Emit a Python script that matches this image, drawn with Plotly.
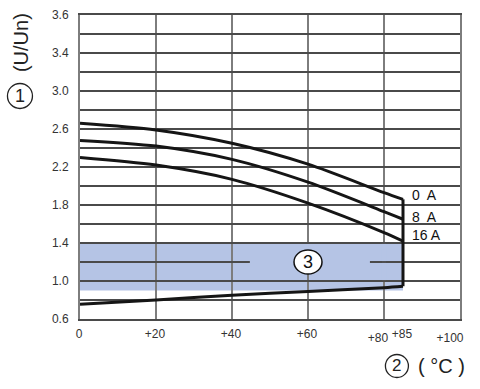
import plotly.graph_objects as go

# ---- data ----
temps = [0, 20, 40, 60, 80, 85]
u_0A = [2.66, 2.59, 2.45, 2.23, 1.93, 1.86]
u_8A = [2.48, 2.42, 2.28, 2.04, 1.73, 1.65]
u_16A = [2.30, 2.22, 2.07, 1.82, 1.51, 1.42]
u_min = [0.755, 0.80, 0.85, 0.89, 0.93, 0.945]
curve_labels = ["0  A", "8  A", "16 A"]
band_x = [0, 85]
band_y = [0.9, 1.4]
x_tickvals = [0, 20, 40, 60, 85]
x_ticktext = ["0", "+20", "+40", "+60", "+85"]
x_tickvals_b = [80]
x_ticktext_b = ["+80"]
x_tickvals_c = [100]
x_ticktext_c = ["+100"]
y_tickvals = [0.6, 1.0, 1.4, 1.8, 2.2, 2.6, 3.0, 3.4, 3.8]
y_ticktext = ["0.6", "1.0", "1.4", "1.8", "2.2", "2.6", "3.0", "3.4", "3.6"]

FONT = "Liberation Sans, Arial, sans-serif"
LINE = "#151515"
BAND = "#b5c4e5"
HGRID = "#4a4a4a"
VGRID = "#7d7d7d"
TICKFONT = dict(family=FONT, size=12, color="#333")

fig = go.Figure()

for ys in (u_0A, u_8A, u_16A):
    fig.add_trace(go.Scatter(x=temps, y=ys, mode="lines",
                             line=dict(color=LINE, width=3, shape="spline", smoothing=0.8),
                             hoverinfo="skip", showlegend=False))
fig.add_trace(go.Scatter(x=temps, y=u_min, mode="lines",
                         line=dict(color=LINE, width=3, shape="spline", smoothing=0.8),
                         hoverinfo="skip", showlegend=False))
fig.add_trace(go.Scatter(x=[temps[-1], temps[-1]], y=[u_0A[-1], u_min[-1]], mode="lines",
                         line=dict(color=LINE, width=3), hoverinfo="skip", showlegend=False))
# empty traces so the extra label axes are drawn
fig.add_trace(go.Scatter(x=[], y=[], xaxis="x2", yaxis="y", showlegend=False, hoverinfo="skip"))
fig.add_trace(go.Scatter(x=[], y=[], xaxis="x3", yaxis="y", showlegend=False, hoverinfo="skip"))

shapes = []
shapes.append(dict(type="rect", xref="x", yref="y", x0=band_x[0], x1=band_x[1],
                   y0=band_y[0], y1=band_y[1], fillcolor=BAND, line=dict(width=0), layer="below"))
shapes.append(dict(type="rect", xref="x", yref="y", x0=44.7, x1=76.3, y0=1.185, y1=1.39,
                   fillcolor=BAND, line=dict(width=0), layer="above"))
for a, b in ((1.01, 1.19), (1.21, 1.39)):
    shapes.append(dict(type="rect", xref="x", yref="y", x0=79.4, x1=80.6, y0=a, y1=b,
                       fillcolor=BAND, line=dict(width=0), layer="above"))
shapes.append(dict(type="circle", xref="x", yref="y", xsizemode="pixel", ysizemode="pixel",
                   xanchor=60, yanchor=1.2, x0=-14, x1=14, y0=-12, y1=12,
                   fillcolor="white", line=dict(color="#111", width=1.5), layer="above"))
for px, py, r in ((-0.158, 0.7336, 12.5), (0.834, -0.1546, 11.5)):
    shapes.append(dict(type="circle", xref="paper", yref="paper", xsizemode="pixel", ysizemode="pixel",
                       xanchor=px, yanchor=py, x0=-r, x1=r, y0=-r, y1=r,
                       fillcolor="rgba(0,0,0,0)", line=dict(color="#222", width=1.3)))

annotations = []
yshifts = [4, 2, 6]
for lab, ys, dy in zip(curve_labels, (u_0A, u_8A, u_16A), yshifts):
    annotations.append(dict(x=temps[-1], y=ys[-1], xref="x", yref="y", text=lab, showarrow=False,
                            xanchor="left", yanchor="middle", xshift=7, yshift=dy,
                            font=dict(family=FONT, size=14, color="#111")))
annotations.append(dict(x=60, y=1.2, xref="x", yref="y", text="3", showarrow=False,
                        xanchor="center", yanchor="middle",
                        font=dict(family=FONT, size=18, color="#111")))
annotations.append(dict(x=-0.1553, y=0.911, xref="paper", yref="paper", text="(U/Un)",
                        textangle=-90, showarrow=False, xanchor="center", yanchor="middle",
                        font=dict(family=FONT, size=20, color="#222")))
annotations.append(dict(x=-0.158, y=0.7336, xref="paper", yref="paper", text="1",
                        showarrow=False, xanchor="center", yanchor="middle",
                        font=dict(family=FONT, size=18, color="#222")))
annotations.append(dict(x=0.834, y=-0.1546, xref="paper", yref="paper", text="2",
                        showarrow=False, xanchor="center", yanchor="middle",
                        font=dict(family=FONT, size=17, color="#222")))
annotations.append(dict(x=0.9526, y=-0.1546, xref="paper", yref="paper", text="( °C )",
                        showarrow=False, xanchor="center", yanchor="middle",
                        font=dict(family=FONT, size=20, color="#222")))

label_axis = dict(range=[0, 100], showgrid=False, zeroline=False,
                  ticks="outside", ticklen=5, tickcolor="rgba(0,0,0,0)", tickangle=0,
                  automargin=False, tickfont=TICKFONT, ticklabelstandoff=3,
                  ticklabeloverflow="allow", overlaying="x", anchor="y", side="bottom",
                  showline=False)

fig.update_layout(
    width=480, height=389,
    margin=dict(l=80, r=20, t=15, b=70, autoexpand=False),
    paper_bgcolor="white", plot_bgcolor="white",
    shapes=shapes, annotations=annotations,
    showlegend=False,
    xaxis=dict(range=[0, 100], tickvals=x_tickvals, ticktext=x_ticktext,
               showgrid=False, zeroline=False, ticks="", tickangle=0, automargin=False,
               tickfont=TICKFONT, ticklabelstandoff=3, ticklabelshift=-1,
               ticklabeloverflow="allow",
               minor=dict(dtick=20, tick0=0, showgrid=True, gridcolor=VGRID, gridwidth=2, ticks=""),
               showline=True, mirror=True, linecolor=HGRID, linewidth=1.5),
    xaxis2=dict(label_axis, tickvals=x_tickvals_b, ticktext=x_ticktext_b, ticklabelshift=-6),
    xaxis3=dict(label_axis, tickvals=x_tickvals_c, ticktext=x_ticktext_c, ticklabelshift=-10),
    yaxis=dict(range=[0.6, 3.8], tickvals=y_tickvals, ticktext=y_ticktext,
               showgrid=False, zeroline=False, ticks="", automargin=False,
               tickfont=dict(family=FONT, size=12, color="#333"),
               ticklabelstandoff=7,
               minor=dict(dtick=0.2, tick0=0.6, showgrid=True, gridcolor=HGRID, gridwidth=1.5, ticks=""),
               showline=True, mirror=True, linecolor=VGRID, linewidth=2),
)

fig.write_html("out.html", config={"displayModeBar": False},
               post_script="document.body.style.margin='0';document.body.style.overflow='hidden';")
